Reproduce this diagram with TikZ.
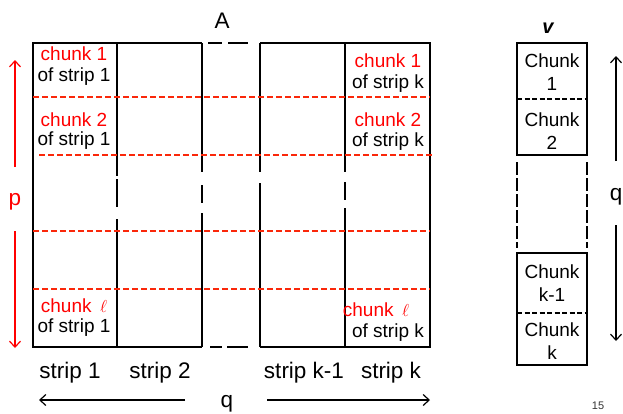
\documentclass[tikz,border=0pt]{standalone}
\usepackage{fontspec}
\setmainfont{Liberation Sans}
\usetikzlibrary{arrows.meta}
\definecolor{chred}{RGB}{255,0,0}
\definecolor{dred}{RGB}{250,40,10}
\tikzset{
  edge/.style={line width=1.6pt, black},
  reddash/.style={line width=1.3pt, dred, dash pattern=on 6pt off 3pt},
  blkdash/.style={line width=1.3pt, black, dash pattern=on 5pt off 2.5pt},
  redlbl/.style={text=chred, font=\fontsize{19}{21}\selectfont, inner sep=0pt},
  blklbl/.style={text=black, font=\fontsize{19}{21}\selectfont, inner sep=0pt},
  biglbl/.style={font=\fontsize{22.5}{24}\selectfont, inner sep=0pt},
  vlbl/.style={font=\fontsize{19}{21}\selectfont, inner sep=0pt},
  arr/.style={line width=1.2pt, -{Straight Barb[length=6pt,width=11pt]}},
}
\begin{document}
\begin{tikzpicture}[x=1pt,y=-1pt]
\useasboundingbox (0,0) rectangle (623,413);
% outer frame
\draw[edge] (202,43) -- (33,43) -- (33,347) -- (202,347);
\draw[edge] (260,43) -- (430,43) -- (430,347) -- (260,347);
\draw[edge] (208,43) -- (222,43) (228,43) -- (248,43);
\draw[edge] (210,347) -- (222,347) (227,347) -- (248,347);
% inner vertical lines
\draw[edge] (117,43) -- (117,176) (117,179) -- (117,207) (117,219) -- (117,347);
\draw[edge] (202,43) -- (202,172) (202,185) -- (202,203) (202,213) -- (202,347);
\draw[edge] (260,43) -- (260,172) (260,183) -- (260,347);
\draw[edge] (345,43) -- (345,172) (345,182) -- (345,200) (345,208) -- (345,347);
% red dashed chunk lines
\draw[reddash] (33,97) -- (430,97);
\draw[reddash] (39,155) -- (434,155);
\draw[reddash] (33,231) -- (430,231);
\draw[reddash] (33,289) -- (430,289);
% labels in matrix
\node[biglbl] (A) at (222,21) {A};
\node[redlbl] (c11) at (74,54) {chunk 1};
\node[blklbl] (s11) at (74,77) {of strip 1};
\node[redlbl] (c21) at (74,120) {chunk 2};
\node[blklbl] (s21) at (74,141) {of strip 1};
\node[redlbl] (cl1) at (74,306) {chunk \,$\ell$};
\node[blklbl] (sl1) at (74,328) {of strip 1};
\node[redlbl] (c1k) at (388,61) {chunk 1};
\node[blklbl] (s1k) at (388,84) {of strip k};
\node[redlbl] (c2k) at (388,120) {chunk 2};
\node[blklbl] (s2k) at (388,142) {of strip k};
\node[redlbl] (clk) at (376,310) {chunk \,$\ell$};
\node[blklbl] (slk) at (388,333) {of strip k};
% left p arrows
\node[biglbl, text=chred] (p) at (15,202) {p};
\coordinate (pu0) at (15,167); \coordinate (pu1) at (15,60);
\coordinate (pd0) at (15,231); \coordinate (pd1) at (15,348);
\draw[arr, chred] (pu0) -- (pu1);
\draw[arr, chred] (pd0) -- (pd1);
% bottom labels
\node[biglbl] (st1) at (70,373) {strip 1};
\node[biglbl] (st2) at (160,373) {strip 2};
\node[biglbl] (stk1) at (304,373) {strip k-1};
\node[biglbl] (stk) at (391,373) {strip k};
\node[biglbl] (qb) at (227,404) {q};
\coordinate (ql0) at (185,400); \coordinate (ql1) at (39,400);
\coordinate (qr0) at (267,400); \coordinate (qr1) at (430,400);
\draw[arr] (ql0) -- (ql1);
\draw[arr] (qr0) -- (qr1);
% vector v
\node[font=\fontsize{20}{22}\selectfont\bfseries\itshape, inner sep=0pt] (v) at (548,28) {v};
\draw[edge] (517,43) rectangle (587,155);
\draw[blkdash] (517,99) -- (587,99);
\draw[edge] (517,253) rectangle (587,365);
\draw[blkdash] (517,313) -- (587,313);
\draw[line width=1.6pt, dash pattern=on 13pt off 3pt] (517,162) -- (517,248);
\draw[line width=1.6pt, dash pattern=on 13pt off 3pt] (587,162) -- (587,248);
\node[vlbl, align=center] (v1) at (552,72) {Chunk\\[2pt]1};
\node[vlbl, align=center] (v2) at (552,131) {Chunk\\[2pt]2};
\node[vlbl, align=center] (vk1) at (552,283) {Chunk\\[2pt]k-1};
\node[vlbl, align=center] (vk) at (552,341) {Chunk\\[2pt]k};
% right q arrows
\node[biglbl] (qr) at (616,197) {q};
\coordinate (vu0) at (616,161); \coordinate (vu1) at (616,56);
\coordinate (vd0) at (616,225); \coordinate (vd1) at (616,341);
\draw[arr] (vu0) -- (vu1);
\draw[arr] (vd0) -- (vd1);
% page number
\node[font=\fontsize{11}{12}\selectfont, text=black!80, inner sep=0pt] (pg) at (598,406) {15};
\end{tikzpicture}
\end{document}
